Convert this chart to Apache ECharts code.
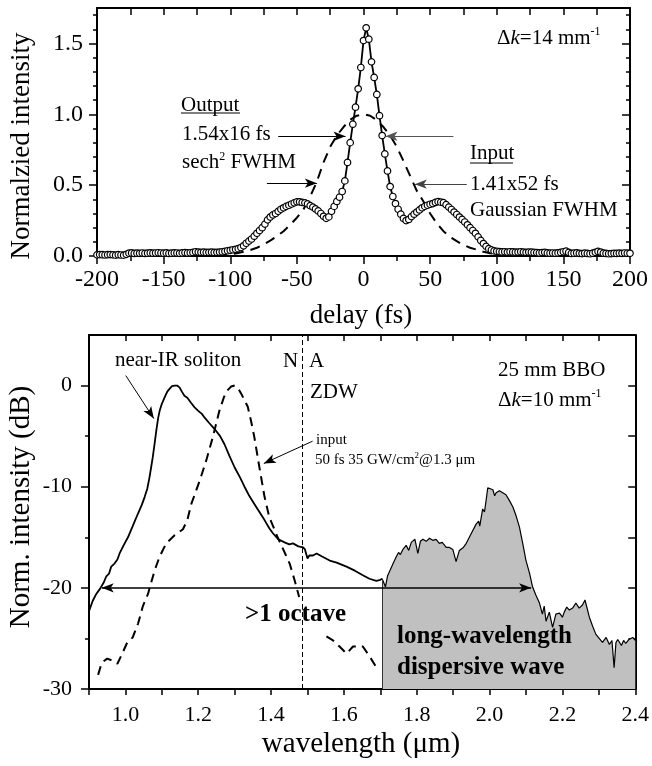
<!DOCTYPE html>
<html><head><meta charset="utf-8">
<script src="https://cdn.jsdelivr.net/npm/echarts@6/dist/echarts.min.js"></script>
<style>html,body{margin:0;padding:0;background:#fff}#c{width:652px;height:766px}</style>
</head><body><div id="c"></div>
<script>
const FONT = '"Liberation Serif","Times New Roman",serif';

// ---------- top panel: autocorrelation ----------
const delayStart = -200, delayStep = 2;   // sampling grid of the measured trace (fs)
const outputIntensity = [
  0.008,0.010,0.009,0.007,0.009,0.010,0.008,0.006,0.009,0.007,
  0.006,0.012,0.020,0.022,0.018,0.020,0.019,0.021,0.018,0.020,
  0.022,0.020,0.021,0.023,0.021,0.020,0.022,0.018,0.020,0.022,
  0.021,0.019,0.022,0.024,0.022,0.023,0.025,0.030,0.028,0.026,
  0.027,0.025,0.026,0.027,0.025,0.026,0.028,0.030,0.033,0.037,
  0.040,0.044,0.047,0.052,0.060,0.072,0.090,0.105,0.120,0.140,
  0.160,0.180,0.200,0.225,0.255,0.275,0.290,0.300,0.315,0.330,
  0.340,0.350,0.358,0.367,0.375,0.382,0.382,0.378,0.375,0.368,
  0.355,0.345,0.332,0.318,0.300,0.280,0.266,0.276,0.315,0.350,
  0.385,0.415,0.455,0.530,0.660,0.800,0.930,1.050,1.180,1.330,
  1.520,1.610,1.530,1.370,1.260,1.140,0.990,0.850,0.720,0.600,
  0.490,0.420,0.370,0.330,0.295,0.265,0.250,0.258,0.278,0.295,
  0.310,0.325,0.340,0.350,0.358,0.365,0.370,0.378,0.383,0.380,
  0.376,0.362,0.345,0.328,0.310,0.293,0.275,0.258,0.240,0.220,
  0.200,0.180,0.160,0.135,0.110,0.088,0.068,0.052,0.043,0.036,
  0.033,0.031,0.029,0.030,0.028,0.030,0.029,0.027,0.028,0.030,
  0.028,0.026,0.028,0.027,0.025,0.024,0.022,0.024,0.026,0.022,
  0.020,0.021,0.020,0.022,0.025,0.030,0.034,0.025,0.018,0.020,
  0.022,0.019,0.017,0.020,0.018,0.016,0.020,0.026,0.032,0.028,
  0.020,0.018,0.016,0.017,0.019,0.018,0.020,0.019,0.021,0.020,
  0.019
];
const inputDelay = [-110,-105,-100,-95,-90,-85,-80,-75,-70,-65,-60,-55,-50,-45,-40,-35,-30,-25,-20,-15,-10,-5,0,
  5,10,15,20,25,30,35,40,45,50,55,60,65,70,75,80,85,90,95,100,105,110];
const inputIntensity = [0.005,0.008,0.012,0.020,0.030,0.042,0.058,0.080,0.108,0.140,0.175,0.220,0.270,0.330,0.420,0.525,0.660,0.770,0.850,0.910,0.962,0.990,1.000,
  0.990,0.958,0.910,0.850,0.770,0.670,0.565,0.460,0.385,0.300,0.230,0.175,0.135,0.105,0.078,0.058,0.045,0.030,0.020,0.012,0.008,0.005];
const topYMajor = [0, 0.5, 1.0, 1.5];
const topYMinor = [0.1,0.2,0.3,0.4,0.6,0.7,0.8,0.9,1.1,1.2,1.3,1.4,1.6,1.7];

// ---------- bottom panel: spectra ----------
const solitonWl = [0.900,0.910,0.920,0.930,0.940,0.947,0.955,0.961,0.970,0.978,0.984,0.995,1.007,1.020,1.034,1.045,1.053,1.060,1.066,1.071,
  1.075,1.080,1.085,1.090,1.094,1.100,1.108,1.115,1.121,1.128,1.135,1.142,1.149,1.155,1.162,1.170,1.180,1.190,1.200,1.210,
  1.217,1.230,1.245,1.260,1.272,1.285,1.300,1.315,1.327,1.340,1.354,1.368,1.382,1.395,1.405,1.420,1.437,1.450,1.460,1.475,
  1.488,1.493,1.500,1.505,1.515,1.525,1.540,1.561,1.580,1.607,1.630,1.652,1.670,1.689,1.700,1.705,
  1.714,1.720,1.725,1.735,1.744,1.750,1.755,1.762,1.771,1.778,1.785,1.795,1.803,1.810,1.817,1.826,1.835,1.844,1.853,1.862,1.870,1.881,1.890,1.899,1.908,1.917,1.928,1.936,
  1.950,1.963,1.970,1.973,1.981,1.986,1.991,1.995,2.009,2.014,2.018,2.027,2.045,2.055,2.064,2.073,2.082,2.091,2.100,2.110,2.118,2.127,
  2.137,2.145,2.150,2.155,2.164,2.173,2.182,2.192,2.200,2.205,2.212,2.219,2.228,2.237,2.246,2.255,2.262,2.274,2.283,2.292,2.301,2.310,2.320,
  2.329,2.336,2.342,2.347,2.352,2.362,2.368,2.374,2.383,2.393,2.400];
const solitonDb = [-22.3,-21.3,-20.6,-20.1,-19.5,-18.9,-18.6,-17.9,-17.6,-17.2,-16.6,-15.8,-15.0,-13.9,-12.7,-11.8,-11.0,-10.2,-9.1,-8.0,
  -7.1,-5.8,-4.4,-3.2,-2.5,-1.8,-1.15,-0.6,-0.33,-0.05,0,0,-0.2,-0.6,-1.0,-1.2,-1.7,-2.15,-2.5,-2.8,
  -3.15,-3.7,-4.3,-5.0,-5.8,-6.9,-8.1,-9.1,-10.0,-10.9,-11.7,-12.5,-13.3,-14.1,-14.6,-15.2,-15.5,-15.7,-15.6,-15.9,
  -16.0,-16.2,-17.1,-16.8,-16.8,-16.6,-16.9,-17.3,-17.5,-17.9,-18.3,-18.75,-19.1,-19.3,-19.2,-19.1,
  -19.9,-18.8,-18.4,-17.6,-16.9,-16.5,-16.7,-16.2,-15.8,-16.3,-15.5,-15.2,-16.6,-15.4,-15.2,-15.4,-15.1,-15.3,-15.2,-15.6,-15.5,-16.0,-16.0,-16.2,-17.4,-16.3,-16.0,-15.6,
  -14.6,-13.7,-13.4,-13.9,-12.2,-12.5,-11.2,-10.1,-10.3,-10.9,-10.6,-10.4,-10.8,-11.4,-12.0,-12.9,-14.0,-15.6,-17.3,-18.6,-19.9,-20.7,
  -21.5,-22.6,-21.8,-23.3,-22.4,-23.9,-22.6,-22.5,-22.9,-22.4,-21.9,-22.2,-22.0,-21.5,-22.0,-21.7,-21.2,-22.9,-23.8,-24.6,-25.0,-25.4,-24.9,
  -25.6,-25.2,-27.9,-25.4,-25.1,-25.7,-25.2,-25.5,-25.1,-24.9,-25.2];
const inputWl = [0.925,0.935,0.950,0.965,0.978,0.990,1.005,1.020,1.035,1.048,1.062,1.080,1.094,1.112,1.135,1.158,1.170,1.181,1.204,1.222,
  1.240,1.258,1.270,1.277,1.290,1.300,1.310,1.318,1.336,1.345,1.354,1.368,1.382,1.395,1.410,1.418,1.441,1.451,1.465,1.477,
  1.500,1.552,1.570,1.588,1.607,1.625,1.652,1.671,1.693];
const inputDb = [-28.6,-27.4,-27.0,-27.2,-27.5,-26.6,-25.4,-24.9,-23.5,-21.8,-20.6,-18.3,-16.9,-15.6,-14.8,-14.2,-13.3,-11.7,-9.4,-7.4,
  -5.1,-2.5,-1.2,-0.6,-0.1,0,-0.3,-0.8,-2.1,-3.5,-5.1,-8.1,-11.0,-13.0,-14.3,-15.0,-16.8,-17.6,-19.3,-20.9,
  null,-24.8,-25.2,-25.8,-26.5,-25.8,-25.8,-26.8,-28.1];
const zdwWl = 1.486;
const dwStartWl = 1.705;
const octaveDb = -20, octaveFrom = 0.935, octaveTo = 2.114;
const botXLabels = [1.0,1.2,1.4,1.6,1.8,2.0,2.2,2.4];
const botYMajor = [-30,-20,-10,0];
const botYMinor = [-25,-15,-5];

// ---------- build ----------
const topOutput = outputIntensity.map((v, i) => [delayStart + i * delayStep, v]);
const topInput = inputDelay.map((d, i) => [d, inputIntensity[i]]);
const splitIdx = solitonWl.indexOf(dwStartWl);
const solA = [], solB = [];
solitonWl.forEach((w, i) => { if (i <= splitIdx) solA.push([w, solitonDb[i]]); if (i >= splitIdx) solB.push([w, solitonDb[i]]); });
const inputSpec = inputWl.map((w, i) => [w, inputDb[i] === null ? '-' : inputDb[i]]);

const BL = {show: true, onZero: false, lineStyle: {color: '#000', width: 2}};
const noLine = {show: false, onZero: false};
const tick = (len, inside, extra) => Object.assign({show: true, inside: !!inside, length: len, lineStyle: {color: '#000', width: 1.5}}, extra || {});
const noLabel = {show: false};
const noSplit = {show: false};

const arrowLine = (a, b, color, w, sym) => [
  {coord: a, symbol: sym ? sym[0] : 'none', lineStyle: {color: color || '#000', width: w || 1.2, type: 'solid'}},
  {coord: b, symbol: sym ? sym[1] : 'arrow'}
];

function T(x, y, text, size, extra) {
  return {type: 'text', x, y, z: 100, style: Object.assign({text, fontSize: size, fontFamily: FONT, fill: '#000', align: 'left', verticalAlign: 'middle'}, extra || {})};
}
function R(x, y, text, size, supSize) {
  return {type: 'text', x, y, z: 100, style: {text, fontSize: size, fontFamily: FONT, fill: '#000', align: 'left', verticalAlign: 'middle',
    rich: {
      n: {fontSize: size, fontFamily: FONT, fill: '#000', lineHeight: size + 3},
      i: {fontSize: size, fontFamily: FONT, fill: '#000', fontStyle: 'italic', lineHeight: size + 3},
      s: {fontSize: supSize, fontFamily: FONT, fill: '#000', verticalAlign: 'top', lineHeight: supSize}
    }}};
}

const option = {
  animation: false,
  backgroundColor: '#fff',
  grid: [
    {left: 97, top: 8, width: 533, height: 248},
    {left: 89, top: 335, width: 547, height: 354}
  ],
  xAxis: [
    {gridIndex: 0, type: 'value', min: -200, max: 200, interval: 50, position: 'bottom', axisLine: BL,
      axisTick: tick(8), minorTick: {show: true, splitNumber: 2, length: 5, lineStyle: {color: '#000', width: 1.5}},
      axisLabel: {fontSize: 24, fontFamily: FONT, color: '#000', margin: 12}, splitLine: noSplit},
    {gridIndex: 0, type: 'value', min: -200, max: 200, interval: 25, position: 'top', axisLine: BL,
      axisTick: tick(7, true), axisLabel: noLabel, splitLine: noSplit},
    {gridIndex: 1, type: 'value', min: 0.9, max: 2.4, interval: 0.1, position: 'bottom', axisLine: BL,
      axisTick: tick(6),
      axisLabel: {customValues: botXLabels, formatter: v => v.toFixed(1), fontSize: 22, fontFamily: FONT, color: '#000', margin: 15},
      splitLine: noSplit},
    {gridIndex: 1, type: 'value', min: 0.9, max: 2.4, interval: 0.1, position: 'top', axisLine: BL,
      axisTick: tick(6, true), axisLabel: noLabel, splitLine: noSplit}
  ],
  yAxis: [
    {gridIndex: 0, type: 'value', min: 0, max: 1.75, interval: 0.5, position: 'left', axisLine: BL,
      axisTick: tick(8, false, {customValues: topYMajor}),
      axisLabel: {customValues: topYMajor, formatter: v => v.toFixed(1), fontSize: 24, fontFamily: FONT, color: '#000', margin: 14},
      splitLine: noSplit},
    {gridIndex: 0, type: 'value', min: 0, max: 1.75, position: 'left', axisLine: noLine,
      axisTick: tick(4, false, {customValues: topYMinor}), axisLabel: noLabel, splitLine: noSplit},
    {gridIndex: 0, type: 'value', min: 0, max: 1.75, position: 'right', axisLine: BL,
      axisTick: tick(8, true, {customValues: topYMajor}), axisLabel: noLabel, splitLine: noSplit},
    {gridIndex: 0, type: 'value', min: 0, max: 1.75, position: 'right', axisLine: noLine,
      axisTick: tick(4, true, {customValues: topYMinor}), axisLabel: noLabel, splitLine: noSplit},
    {gridIndex: 1, type: 'value', min: -30, max: 5, interval: 10, position: 'left', axisLine: BL,
      axisTick: tick(8, false, {customValues: botYMajor}),
      axisLabel: {customValues: botYMajor, fontSize: 22, fontFamily: FONT, color: '#000', margin: 17},
      splitLine: noSplit},
    {gridIndex: 1, type: 'value', min: -30, max: 5, position: 'left', axisLine: noLine,
      axisTick: tick(4, false, {customValues: botYMinor}), axisLabel: noLabel, splitLine: noSplit},
    {gridIndex: 1, type: 'value', min: -30, max: 5, interval: 5, position: 'right', axisLine: BL,
      axisTick: tick(7, true), axisLabel: noLabel, splitLine: noSplit}
  ],
  series: [
    {type: 'line', xAxisIndex: 0, yAxisIndex: 0, data: topInput, showSymbol: false, z: 2,
      lineStyle: {color: '#000', width: 2, type: [10, 7]}},
    {type: 'line', xAxisIndex: 0, yAxisIndex: 0, data: topOutput, symbol: 'circle', symbolSize: 6.5, showSymbol: true, z: 3,
      itemStyle: {color: '#fff', borderColor: '#000', borderWidth: 1.2},
      lineStyle: {color: '#000', width: 1.8},
      markLine: {silent: true, animation: false, label: {show: false}, symbolSize: [7, 12],
        data: [
          arrowLine([-64, 0.845], [-13.5, 0.845]),
          arrowLine([-72.5, 0.514], [-35, 0.514]),
          arrowLine([67.5, 0.845], [16.5, 0.845], '#555'),
          arrowLine([77.5, 0.507], [38.5, 0.507], '#444')
        ]}},
    {type: 'line', xAxisIndex: 2, yAxisIndex: 4, data: solB, showSymbol: false, z: 1,
      lineStyle: {color: '#000', width: 1.2},
      areaStyle: {color: '#c0c0c0', opacity: 1, origin: 'start'}},
    {type: 'line', xAxisIndex: 2, yAxisIndex: 4, data: solA, showSymbol: false, z: 3,
      lineStyle: {color: '#000', width: 1.8},
      markLine: {silent: true, animation: false, label: {show: false}, symbolSize: [7, 12],
        data: [
          [{coord: [zdwWl, -30], symbol: 'none', lineStyle: {color: '#000', width: 1, type: [5, 3]}}, {coord: [zdwWl, 5], symbol: 'none'}],
          [{coord: [dwStartWl, -30], symbol: 'none', lineStyle: {color: '#333', width: 1, type: 'solid'}}, {coord: [dwStartWl, solitonDb[splitIdx]], symbol: 'none'}],
          arrowLine([octaveFrom, octaveDb], [octaveTo, octaveDb], '#000', 1.5, ['arrow', 'arrow']),
          arrowLine([1.001, 0.99], [1.078, -3.26], '#000', 1),
          arrowLine([1.514, -5.5], [1.38, -7.7], '#000', 1)
        ]}},
    {type: 'line', xAxisIndex: 2, yAxisIndex: 4, data: inputSpec, showSymbol: false, z: 3, connectNulls: false,
      lineStyle: {color: '#000', width: 2, type: [9, 6]}}
  ],
  graphic: {elements: [
    R(497, 38, '{n|Δ}{i|k}{n|=14 mm}{s|-1}', 21, 12),
    T(181, 105.5, 'Output', 21),
    {type: 'line', z: 100, shape: {x1: 181, y1: 113, x2: 240, y2: 113}, style: {stroke: '#000', lineWidth: 1.2}},
    T(182, 134.5, '1.54x16 fs', 21),
    R(182, 162.5, '{n|sech}{s|2}{n| FWHM}', 21, 12),
    T(470, 153, 'Input', 21),
    {type: 'line', z: 100, shape: {x1: 470, y1: 163, x2: 513, y2: 163}, style: {stroke: '#000', lineWidth: 1.2}},
    T(470, 184, '1.41x52 fs', 21),
    T(470, 210.5, 'Gaussian FWHM', 21),
    Object.assign(T(22, 146, 'Normalzied intensity', 27, {align: 'center'}), {rotation: Math.PI / 2}),
    T(361, 316, 'delay (fs)', 27, {align: 'center'}),
    T(115, 360.5, 'near-IR soliton', 21),
    T(283, 361.5, 'N', 21),
    T(309, 361.5, 'A', 21),
    T(310, 392, 'ZDW', 21),
    T(316, 440, 'input', 15),
    R(315, 460, '{n|50 fs 35 GW/cm}{s|2}{n|@1.3 μm}', 15, 9),
    T(498, 370.5, '25 mm BBO', 21),
    R(498, 400, '{n|Δ}{i|k}{n|=10 mm}{s|-1}', 21, 12),
    T(245, 614.5, '>1 octave', 25, {fontWeight: 'bold'}),
    T(397, 636.5, 'long-wavelength', 25, {fontWeight: 'bold'}),
    T(397, 668, 'dispersive wave', 25, {fontWeight: 'bold'}),
    Object.assign(T(21, 507, 'Norm. intensity (dB)', 29, {align: 'center'}), {rotation: Math.PI / 2}),
    T(361, 744, 'wavelength (μm)', 29, {align: 'center'})
  ]}
};

const chart = echarts.init(document.getElementById('c'), null, {renderer: 'canvas', width: 652, height: 766});
chart.setOption(option);
</script>
</body></html>
